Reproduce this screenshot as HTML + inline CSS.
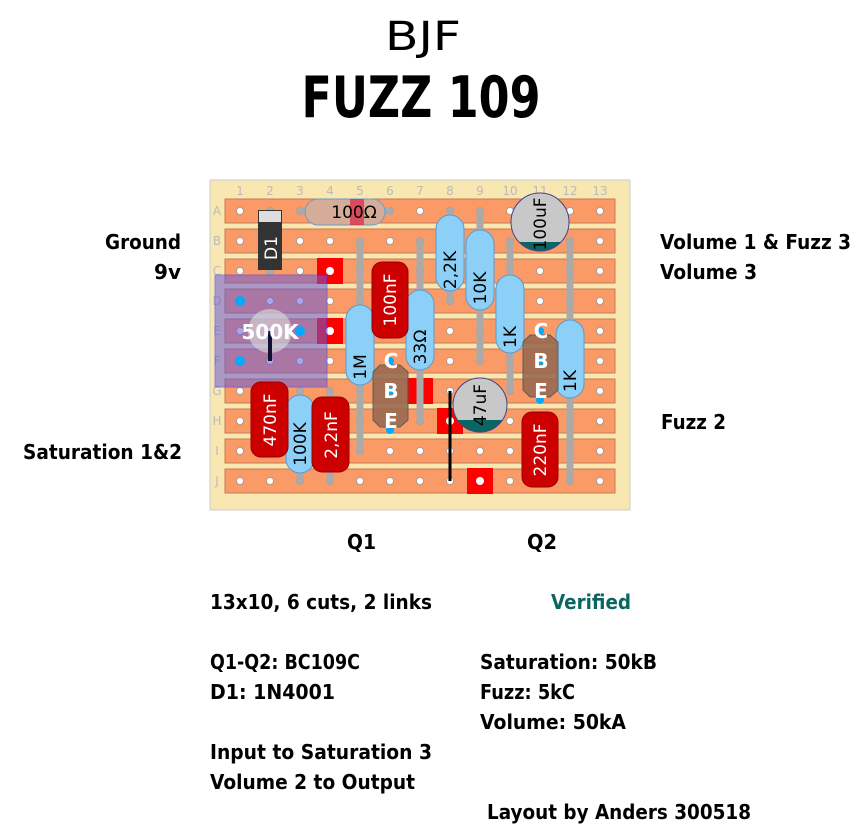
<!DOCTYPE html>
<html><head><meta charset="utf-8"><style>
body{margin:0;background:#fff;width:859px;height:825px;overflow:hidden}
svg{display:block}
.t{font-family:"DejaVu Sans","Liberation Sans",sans-serif;font-weight:bold;font-size:20px;fill:#000}
.c{font-family:"DejaVu Sans","Liberation Sans",sans-serif;font-size:17px;fill:#000}
.w{fill:#fff}
.g{font-family:"DejaVu Sans",sans-serif;font-size:12px;fill:#bbb}
</style></head><body>
<svg width="859" height="825" viewBox="0 0 859 825" xmlns="http://www.w3.org/2000/svg">
<defs>
<pattern id="hp" x="225" y="196" width="30" height="30" patternUnits="userSpaceOnUse">
<circle cx="15" cy="15" r="3.5" fill="#fff" stroke="#999" stroke-width="0.8"/>
</pattern>
</defs>
<text x="423" y="50" text-anchor="middle" font-family="DejaVu Sans,sans-serif" font-size="40" textLength="76" lengthAdjust="spacingAndGlyphs">BJF</text>
<text x="421" y="117" text-anchor="middle" font-family="DejaVu Sans,sans-serif" font-weight="bold" font-size="57" textLength="239" lengthAdjust="spacingAndGlyphs">FUZZ 109</text>

<!-- board -->
<rect x="210" y="180" width="420" height="330" fill="#f8e7b0" stroke="#ccc"/>
<g fill="#fa9a66" stroke="#c87a55" stroke-width="1">
<rect x="225" y="199" width="390" height="24"/><rect x="225" y="229" width="390" height="24"/>
<rect x="225" y="259" width="390" height="24"/><rect x="225" y="289" width="390" height="24"/>
<rect x="225" y="319" width="390" height="24"/><rect x="225" y="349" width="390" height="24"/>
<rect x="225" y="379" width="390" height="24"/><rect x="225" y="409" width="390" height="24"/>
<rect x="225" y="439" width="390" height="24"/><rect x="225" y="469" width="390" height="24"/>
</g>
<rect x="225" y="196" width="390" height="300" fill="url(#hp)"/>
<g class="g" text-anchor="middle">
<text x="240" y="195">1</text><text x="270" y="195">2</text><text x="300" y="195">3</text><text x="330" y="195">4</text><text x="360" y="195">5</text><text x="390" y="195">6</text><text x="420" y="195">7</text><text x="450" y="195">8</text><text x="480" y="195">9</text><text x="510" y="195">10</text><text x="540" y="195">11</text><text x="570" y="195">12</text><text x="600" y="195">13</text>
<text x="217" y="215">A</text><text x="217" y="245">B</text><text x="217" y="275">C</text><text x="217" y="305">D</text><text x="217" y="335">E</text><text x="217" y="365">F</text><text x="217" y="395">G</text><text x="217" y="425">H</text><text x="217" y="455">I</text><text x="217" y="485">J</text>
</g>

<!-- cuts -->
<g fill="#f00">
<rect x="317" y="258" width="26" height="26"/><rect x="317" y="318" width="26" height="26"/>
<rect x="407" y="378" width="26" height="26"/><rect x="437" y="408" width="26" height="26"/>
<rect x="467" y="468" width="26" height="26"/>
</g>
<g fill="#fff"><circle cx="330" cy="271" r="4"/><circle cx="330" cy="331" r="4"/><circle cx="450" cy="421" r="4"/><circle cx="480" cy="481" r="4"/></g>

<!-- gray leads -->
<g stroke="#aaa" stroke-width="7" stroke-linecap="round">
<line x1="360" y1="241" x2="360" y2="451"/>
<line x1="420" y1="241" x2="420" y2="421"/>
<line x1="450" y1="211" x2="450" y2="301"/>
<line x1="480" y1="211" x2="480" y2="361"/>
<line x1="510" y1="241" x2="510" y2="391"/>
<line x1="570" y1="241" x2="570" y2="481"/>
<line x1="300" y1="391" x2="300" y2="481"/>
<line x1="330" y1="391" x2="330" y2="481"/>
<line x1="270" y1="211" x2="270" y2="271"/>
<line x1="300" y1="211" x2="390" y2="211"/>
</g>
<!-- black link -->
<line x1="450" y1="391" x2="450" y2="481" stroke="#000" stroke-width="3"/>

<!-- 100 ohm -->
<rect x="305" y="199" width="80" height="26" rx="13" fill="#d4ac98" stroke="#6a9bd0"/>
<rect x="350" y="199" width="14" height="26" fill="#d24" opacity="0.7"/>
<text x="354" y="218" class="c" text-anchor="middle">100Ω</text>

<!-- D1 -->
<rect x="258" y="210" width="24" height="60" fill="#333"/>
<rect x="259" y="211" width="22" height="11" fill="#ddd"/>
<text class="c w" transform="translate(277,248) rotate(-90)" text-anchor="middle">D1</text>

<!-- pot -->
<rect x="215" y="275" width="112" height="112" fill="#6a5ad5" opacity="0.55" stroke="#33f"/>
<circle cx="270" cy="331" r="22" fill="#ddd" opacity="0.6"/>
<line x1="270" y1="331" x2="270" y2="361" stroke="#113" stroke-width="4"/>
<g fill="#0af"><circle cx="240" cy="301" r="5"/><circle cx="300" cy="331" r="5"/><circle cx="240" cy="361" r="5"/></g>
<text x="270" y="339" class="t w" text-anchor="middle">500K</text>

<!-- blue resistors -->
<g fill="#8cd0f8" stroke="#5a9ad0">
<rect x="346" y="305" width="28" height="80" rx="14"/>
<rect x="406" y="290" width="28" height="80" rx="14"/>
<rect x="436" y="215" width="28" height="76" rx="14"/>
<rect x="466" y="230" width="28" height="80" rx="14"/>
<rect x="496" y="275" width="28" height="78" rx="14"/>
<rect x="556" y="320" width="28" height="78" rx="14"/>
<rect x="286" y="395" width="28" height="78" rx="14"/>
</g>
<g class="c">
<text transform="translate(366,367) rotate(-90)" text-anchor="middle">1M</text>
<text transform="translate(426,347) rotate(-90)" text-anchor="middle">33Ω</text>
<text transform="translate(456,270) rotate(-90)" text-anchor="middle">2,2K</text>
<text transform="translate(486,288) rotate(-90)" text-anchor="middle">10K</text>
<text transform="translate(516,337) rotate(-90)" text-anchor="middle">1K</text>
<text transform="translate(576,381) rotate(-90)" text-anchor="middle">1K</text>
<text transform="translate(306,444) rotate(-90)" text-anchor="middle">100K</text>
</g>

<!-- red caps -->
<g fill="#c00" stroke="#900">
<rect x="372" y="262" width="36" height="76" rx="10"/>
<rect x="251" y="382" width="37" height="75" rx="10"/>
<rect x="312" y="397" width="37" height="75" rx="10"/>
<rect x="522" y="412" width="36" height="75" rx="10"/>
</g>
<g class="c w">
<text transform="translate(396,300) rotate(-90)" text-anchor="middle">100nF</text>
<text transform="translate(276,420) rotate(-90)" text-anchor="middle">470nF</text>
<text transform="translate(337,435) rotate(-90)" text-anchor="middle">2,2nF</text>
<text transform="translate(546,450) rotate(-90)" text-anchor="middle">220nF</text>
</g>

<!-- electrolytics -->
<clipPath id="e1"><circle cx="540" cy="222" r="29"/></clipPath>
<circle cx="540" cy="222" r="29" fill="#c8c8c8"/>
<rect x="510" y="242" width="60" height="12" fill="#0a6660" clip-path="url(#e1)"/>
<circle cx="540" cy="222" r="29" fill="none" stroke="#448"/>
<text class="c" transform="translate(546,224) rotate(-90)" text-anchor="middle">100uF</text>
<clipPath id="e2"><circle cx="480" cy="405" r="27"/></clipPath>
<circle cx="480" cy="405" r="27" fill="#c8c8c8"/>
<rect x="450" y="420" width="60" height="14" fill="#0a6660" clip-path="url(#e2)"/>
<circle cx="480" cy="405" r="27" fill="none" stroke="#448"/>
<text class="c" transform="translate(486,405) rotate(-90)" text-anchor="middle">47uF</text>

<!-- transistors -->
<g fill="#9a6a50" stroke="#555">
<path d="M380 365 L400 365 L408 372 L408 420 L400 427 L380 427 L373 420 L373 372 Z" opacity="0.9"/>
<path d="M530 335 L550 335 L558 342 L558 390 L550 397 L530 397 L523 390 L523 342 Z" opacity="0.9"/>
</g>
<g fill="#0af"><circle cx="390" cy="361" r="4"/><circle cx="390" cy="391" r="4"/><circle cx="390" cy="430" r="4"/>
<circle cx="540" cy="331" r="4"/><circle cx="540" cy="361" r="4"/><circle cx="540" cy="400" r="4"/></g>
<g class="t w" text-anchor="middle">
<text x="391" y="368">C</text><text x="391" y="398">B</text><text x="391" y="428">E</text>
<text x="541" y="338">C</text><text x="541" y="368">B</text><text x="541" y="398">E</text>
</g>

<!-- labels -->
<g class="t">
<text x="181" y="249" text-anchor="end" textLength="76" lengthAdjust="spacingAndGlyphs">Ground</text>
<text x="181" y="279" text-anchor="end">9v</text>
<text x="182" y="459" text-anchor="end" textLength="159" lengthAdjust="spacingAndGlyphs">Saturation 1&amp;2</text>
<text x="660" y="249" textLength="191" lengthAdjust="spacingAndGlyphs">Volume 1 &amp; Fuzz 3</text>
<text x="660" y="279" textLength="97" lengthAdjust="spacingAndGlyphs">Volume 3</text>
<text x="661" y="429" textLength="65" lengthAdjust="spacingAndGlyphs">Fuzz 2</text>
<text x="347" y="549" textLength="29" lengthAdjust="spacingAndGlyphs">Q1</text>
<text x="527" y="549" textLength="30" lengthAdjust="spacingAndGlyphs">Q2</text>
<text x="210" y="609" textLength="222" lengthAdjust="spacingAndGlyphs">13x10, 6 cuts, 2 links</text>
<text x="551" y="609" textLength="80" lengthAdjust="spacingAndGlyphs" style="fill:#0a6660">Verified</text>
<text x="210" y="669" textLength="150" lengthAdjust="spacingAndGlyphs">Q1-Q2: BC109C</text>
<text x="210" y="699" textLength="125" lengthAdjust="spacingAndGlyphs">D1: 1N4001</text>
<text x="480" y="669" textLength="177" lengthAdjust="spacingAndGlyphs">Saturation: 50kB</text>
<text x="480" y="699" textLength="95" lengthAdjust="spacingAndGlyphs">Fuzz: 5kC</text>
<text x="480" y="729" textLength="146" lengthAdjust="spacingAndGlyphs">Volume: 50kA</text>
<text x="210" y="759" textLength="222" lengthAdjust="spacingAndGlyphs">Input to Saturation 3</text>
<text x="210" y="789" textLength="205" lengthAdjust="spacingAndGlyphs">Volume 2 to Output</text>
<text x="487" y="819" textLength="264" lengthAdjust="spacingAndGlyphs">Layout by Anders 300518</text>
</g>
</svg>
</body></html>
